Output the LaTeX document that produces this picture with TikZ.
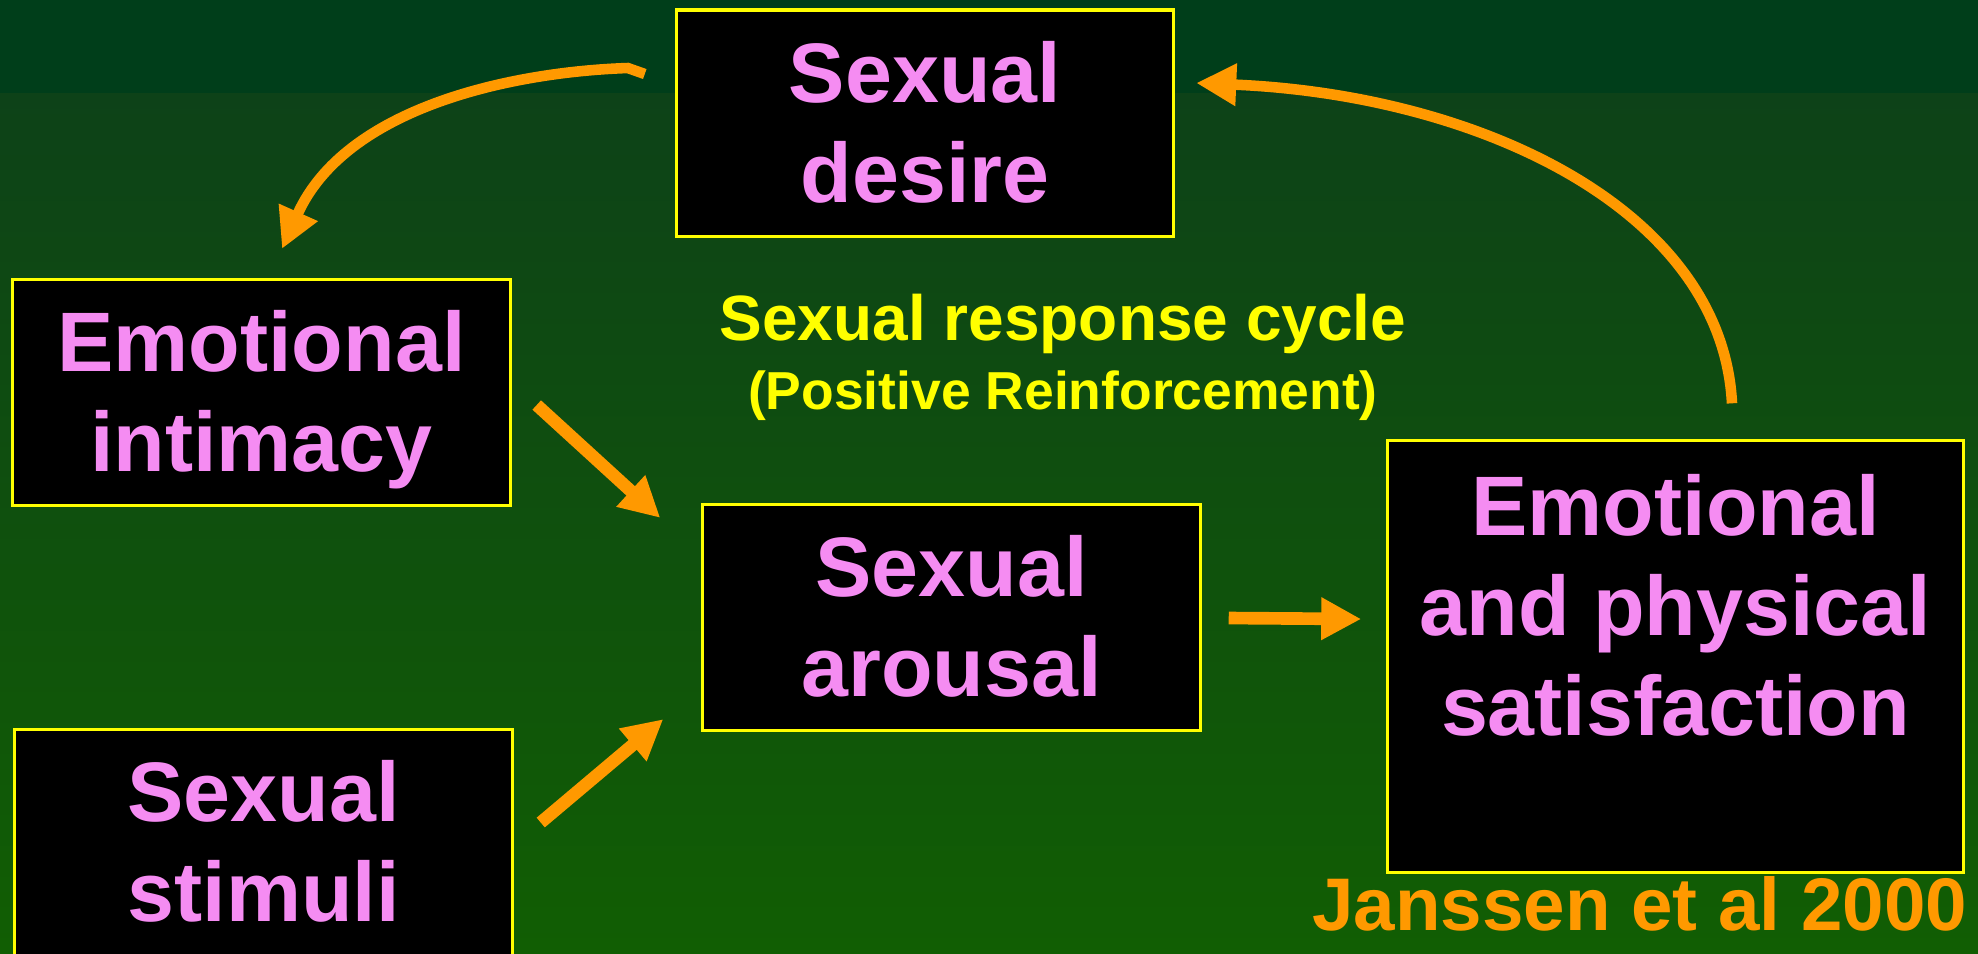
\documentclass[tikz,border=0pt]{standalone}
\usepackage{fontspec}
\setmainfont{Liberation Sans}
\usetikzlibrary{arrows.meta,positioning,calc}

\definecolor{bgtop}{RGB}{0,62,26}
\definecolor{bgmid}{RGB}{13,66,24}
\definecolor{bgbot}{RGB}{17,94,3}
\definecolor{stagepink}{RGB}{245,140,242}
\definecolor{arrorange}{RGB}{255,153,0}
\definecolor{frameyellow}{RGB}{255,255,0}

\newcommand{\boxstrut}{\rule[-0.212em]{0pt}{1.117em}}

\begin{document}
\begin{tikzpicture}[x=0.01cm, y=-0.01cm,
    stage/.style={draw=frameyellow, line width=0.9pt, fill=black, text=stagepink,
        font=\fontsize{24}{28.45}\selectfont\bfseries, align=center,
        minimum width=4.97cm, minimum height=2.26cm, inner sep=0pt},
    feedarrow/.style={draw=arrorange, line width=3.6pt,
        -{Triangle[length=0.4cm, width=0.4cm]}},
    cyclearrow/.style={draw=arrorange, line width=3pt,
        -{Triangle[length=0.4cm, width=0.4cm]}}]

    % Background
    \clip (0,0) rectangle (1978,953);
    \fill[bgtop] (0,0) rectangle (1978,93);
    \shade[top color=bgmid, bottom color=bgbot] (0,93) rectangle (1978,953);

    % Stages
    \node[stage] (desire) at (925,123) {\boxstrut Sexual\\\boxstrut desire};
    \node[stage] (intimacy) at (261.5,392.5) {\boxstrut Emotional\\\boxstrut intimacy};
    \node[stage] (stimuli) at (263.5,842.5) {\boxstrut Sexual\\\boxstrut stimuli};
    \node[stage] (arousal) at (951.5,617.5) {\boxstrut Sexual\\\boxstrut arousal};
    \node[stage, minimum width=5.75cm, minimum height=4.31cm] (satisfaction) at (1675.5,656.5)
        {\boxstrut Emotional\\\boxstrut and physical\\\boxstrut satisfaction\\\boxstrut};

    % Titles
    \node[anchor=base, text=frameyellow, font=\fontsize{18.2}{22}\selectfont\bfseries]
        (title) at (1063,340) {Sexual response cycle};
    \node[anchor=base, text=frameyellow, font=\fontsize{15.2}{18}\selectfont\bfseries]
        (subtitle) at (1063,409) {(Positive Reinforcement)};
    \node[anchor=base east, inner sep=0pt, text=arrorange, font=\fontsize{21.2}{25}\selectfont\bfseries]
        (source) at (1968,930) {Janssen et al 2000};

    % Straight arrows into and out of arousal
    \draw[feedarrow] ([shift={(25,12.5)}]intimacy.east) -- ([shift={(-41,15)}]arousal.north west);
    \draw[feedarrow] ([shift={(27,-20)}]stimuli.east) -- ([shift={(-38,-13)}]arousal.south west);
    \draw[feedarrow] ([shift={(27,0.5)}]arousal.east) -- ([shift={(-25,-37.5)}]satisfaction.west);

    % Curved arrows closing the cycle
    \draw[cyclearrow] ([shift={(-30,-49)}]desire.west) -- ++(-17,-6)
        .. controls (510,72) and (345,108) .. ([shift={(20.5,-29)}]intimacy.north);
    \draw[cyclearrow] ([shift={(56.5,-36)}]satisfaction.north)
        .. controls (1722,210) and (1480,95) .. ([shift={(21,-40)}]desire.east);
\end{tikzpicture}
\end{document}
